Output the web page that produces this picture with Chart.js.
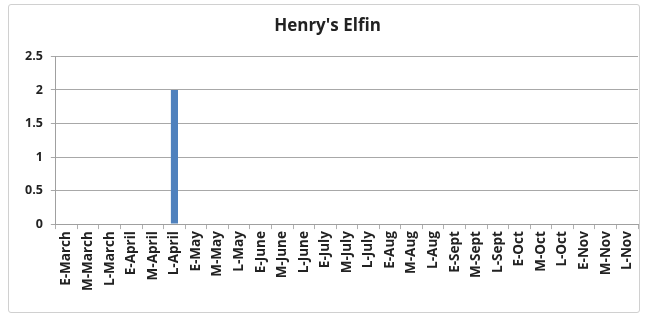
<!DOCTYPE html>
<html>
<head>
<meta charset="utf-8">
<script src="https://cdn.jsdelivr.net/npm/chart.js@4/dist/chart.umd.min.js"></script>
<style>
  html, body { margin: 0; padding: 0; background: #fff; }
  #wrap { position: relative; width: 650px; height: 324px; }
  #frame { position: absolute; left: 8px; top: 4px; width: 632px; height: 309px; border: 1px solid #d0d0d0; border-radius: 3px; box-sizing: border-box; }
  canvas { position: absolute; left: 0; top: 0; }
</style>
</head>
<body>
<div id="wrap">
  <div id="frame"></div>
  <canvas id="chart" width="650" height="324"></canvas>
</div>
<script>
const periods = ["E-March", "M-March", "L-March", "E-April", "M-April", "L-April",
  "E-May", "M-May", "L-May", "E-June", "M-June", "L-June", "E-July", "M-July", "L-July",
  "E-Aug", "M-Aug", "L-Aug", "E-Sept", "M-Sept", "L-Sept", "E-Oct", "M-Oct", "L-Oct",
  "E-Nov", "M-Nov", "L-Nov"];
const sightings = [0, 0, 0, 0, 0, 2, 0, 0, 0, 0, 0, 0, 0, 0, 0, 0, 0, 0, 0, 0, 0, 0, 0, 0, 0, 0, 0];
const yTicks = [0, 0.5, 1, 1.5, 2, 2.5];

const xFont = { family: "'Open Sans', 'Liberation Sans', sans-serif", size: 13.5, weight: "bold" };
const yFont = { family: "'Open Sans', 'Liberation Sans', sans-serif", size: 12.5, weight: "bold" };

new Chart(document.getElementById("chart"), {
  type: "bar",
  data: {
    labels: periods,
    datasets: [{
      label: "Henry's Elfin",
      data: sightings,
      backgroundColor: "#4F81BD",
      borderWidth: 0,
      barPercentage: 0.33,
      categoryPercentage: 1.0,
    }],
  },
  options: {
    responsive: false,
    animation: false,
    layout: { padding: { left: 17, right: 12, top: 8, bottom: 31 } },
    plugins: {
      legend: { display: false },
      tooltip: { enabled: false },
      title: {
        display: true,
        text: "Henry's Elfin",
        color: "#222",
        font: { family: "'Open Sans', 'Liberation Sans', sans-serif", size: 17, weight: "bold" },
        padding: { top: 8, bottom: 20 },
      },
    },
    scales: {
      x: {
        offset: true,
        grid: { offset: true, drawOnChartArea: false, color: "#b0b0b0", tickLength: 5 },
        border: { color: "#a0a0a0" },
        ticks: { color: "#222", font: xFont, maxRotation: 90, minRotation: 90, autoSkip: false, padding: 2 },
      },
      y: {
        min: 0,
        max: 2.5,
        afterBuildTicks: (axis) => { axis.ticks = yTicks.map((v) => ({ value: v })); },
        grid: { color: "#a8a8a8", tickLength: 5 },
        border: { color: "#a0a0a0" },
        ticks: { color: "#222", font: yFont, padding: 8, callback: (v) => String(v) },
      },
    },
  },
});
</script>
</body>
</html>
